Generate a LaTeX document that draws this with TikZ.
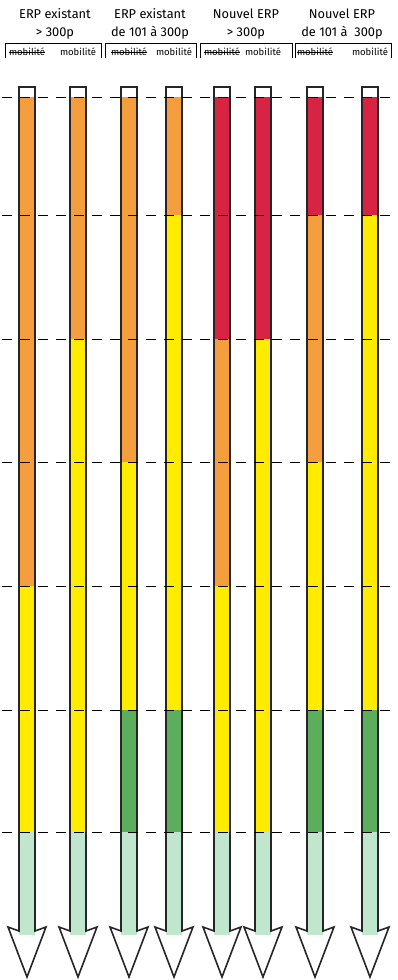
\documentclass[tikz,border=0pt]{standalone}
\usepackage{fontspec}
\setmainfont{Fira Sans}
\usetikzlibrary{positioning}
\definecolor{orng}{RGB}{245,158,62}
\definecolor{crim}{RGB}{214,36,66}
\definecolor{yell}{RGB}{255,236,0}
\definecolor{grn}{RGB}{92,174,92}
\definecolor{lgrn}{RGB}{192,230,206}
\def\rowy{{97,215,339,462,586,710,832}}

\begin{document}
\begin{tikzpicture}[x=1pt,y=-1pt,
  head/.style={align=center,font=\fontsize{12.8}{17.5}\selectfont,inner sep=0pt},
  mob/.style={font=\fontsize{9.5}{10}\selectfont,inner sep=0pt},
  grid/.style={dash pattern=on 10pt off 8pt,line width=0.9pt},
  brace/.style={line width=0.9pt},
  bar/.style={draw=black!85,line width=1.6pt,line join=miter}]
\fill[white] (0,0) rectangle (397,980);
\useasboundingbox (0,0) rectangle (397,980);

% column heads
\node[head] (h1) at (55,24) {ERP existant\\ > 300p};
\node[head] (h2) at (150,24) {ERP existant\\ de 101 à 300p};
\node[head] (h3) at (246,24) {Nouvel ERP\\ > 300p};
\node[head] (h4) at (342,24) {Nouvel ERP\\ de 101 à~~300p};
\foreach \xa/\xb in {5/101,105/196,200/292,295/391}
  \draw[brace] (\xa,58) -- (\xa,43) -- (\xb,43) -- (\xb,58);

% bars
\foreach \cx/\cols [count=\k] in {27/{orng,orng,orng,orng,yell,yell},
    78/{orng,orng,yell,yell,yell,yell},
    129/{orng,orng,orng,yell,yell,grn},
    174/{orng,yell,yell,yell,yell,grn},
    222/{crim,crim,orng,orng,yell,yell},
    263/{crim,crim,yell,yell,yell,yell},
    315/{crim,orng,orng,yell,yell,grn},
    370/{crim,yell,yell,yell,yell,grn}} {
  \node[mob] (m\k) at (\cx,52) {mobilité};
  \ifodd\k\relax
    \draw[line width=0.7pt] (m\k.west) -- (m\k.east);
  \fi
  \foreach \c [count=\i] in \cols {
    \pgfmathsetmacro\ya{\rowy[\i-1]}
    \pgfmathsetmacro\yb{\rowy[\i]}
    \fill[\c] (\cx-8,\ya) rectangle (\cx+8,\yb);
  }
  \fill[lgrn] (\cx-8,832) rectangle (\cx+8,935);
  \draw[bar] (\cx-8,87) -- (\cx+8,87) -- (\cx+8,931) -- (\cx+19,927)
    -- (\cx,977) -- (\cx-19,927) -- (\cx-8,931) -- cycle;
}

% level lines
\foreach \y in {97,215,339,462,586,710,832}
  \draw[grid] (2,\y) -- (393,\y);
\end{tikzpicture}
\end{document}
